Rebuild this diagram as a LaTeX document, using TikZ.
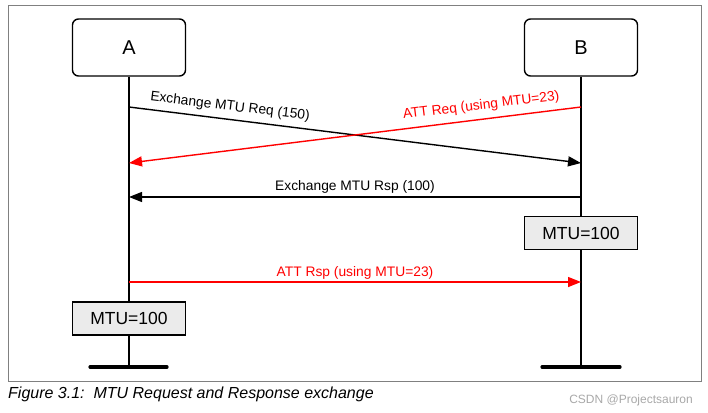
\documentclass[tikz,border=0pt]{standalone}
\usepackage{fontspec}
\setmainfont{Liberation Sans}
\usetikzlibrary{arrows.meta}
\definecolor{mtugray}{HTML}{EBEBEB}
\definecolor{framegray}{HTML}{808080}
\definecolor{wmgray}{HTML}{A8A8A8}
\begin{document}
\begin{tikzpicture}[x=1pt,y=-1pt,
  actor/.style={draw, line width=1.4pt, rounded corners=6pt, fill=white, minimum width=113pt, minimum height=57pt, inner sep=0pt, font=\fontsize{20}{24}\selectfont},
  mtubox/.style={draw, line width=1.3pt, fill=mtugray, minimum width=113pt, minimum height=33pt, inner sep=0pt, font=\fontsize{17.5}{21}\selectfont},
  life/.style={line width=1.5pt},
  bar/.style={line width=3.2pt, line cap=round},
  msg/.style={line width=1.4pt, -{Triangle[length=13pt,width=10pt]}},
  lbl/.style={font=\fontsize{13.8}{16}\selectfont, inner sep=0pt, anchor=base}
]
\useasboundingbox (0,0) rectangle (708,412);
\draw[framegray, line width=1pt] (8,6) rectangle (701,381);

\node[actor] (A) at (129,47.5) {A};
\node[actor] (B) at (581,47.5) {B};
\node[mtubox] (mB) at (581,233) {MTU=100};
\node[mtubox] (mA) at (129,318.5) {MTU=100};

\coordinate (Aend) at (129,367);
\coordinate (Bend) at (581,367);
\coordinate (Abl) at (90,367);
\coordinate (Abr) at (167,367);
\coordinate (Bbl) at (542,367);
\coordinate (Bbr) at (620,367);

\draw[life] (A.south) -- (mA.north);
\draw[life] (mA.south) -- (Aend);
\draw[life] (B.south) -- (mB.north);
\draw[life] (mB.south) -- (Bend);
\draw[bar] (Abl) -- (Abr);
\draw[bar] (Bbl) -- (Bbr);

\coordinate (a1) at (129,107);
\coordinate (b1) at (581,163);
\coordinate (b2) at (581,107);
\coordinate (a2) at (129,163);
\coordinate (b3) at (581,197);
\coordinate (a3) at (129,197);
\coordinate (a4) at (129,282);
\coordinate (b4) at (581,282);

\draw[msg] (a1) -- node[lbl, sloped, pos=0.22, yshift=9pt] {Exchange MTU Req (150)} (b1);
\draw[msg, red] (b2) -- node[lbl, sloped, pos=0.217, yshift=10pt, text=red] {ATT Req (using MTU=23)} (a2);
\draw[msg] (b3) -- node[lbl, pos=0.5, yshift=7pt] {Exchange MTU Rsp (100)} (a3);
\draw[msg, red] (a4) -- node[lbl, pos=0.5, yshift=6pt, text=red] {ATT Rsp (using MTU=23)} (b4);

\node[anchor=base west, inner sep=0pt, font=\fontsize{16}{19}\selectfont\itshape] (cap) at (8,398) {Figure 3.1:\ \ MTU Request and Response exchange};
\node[anchor=base east, inner sep=0pt, text=wmgray, font=\fontsize{12}{14}\selectfont] (wm) at (693,403) {CSDN @Projectsauron};
\end{tikzpicture}
\end{document}
